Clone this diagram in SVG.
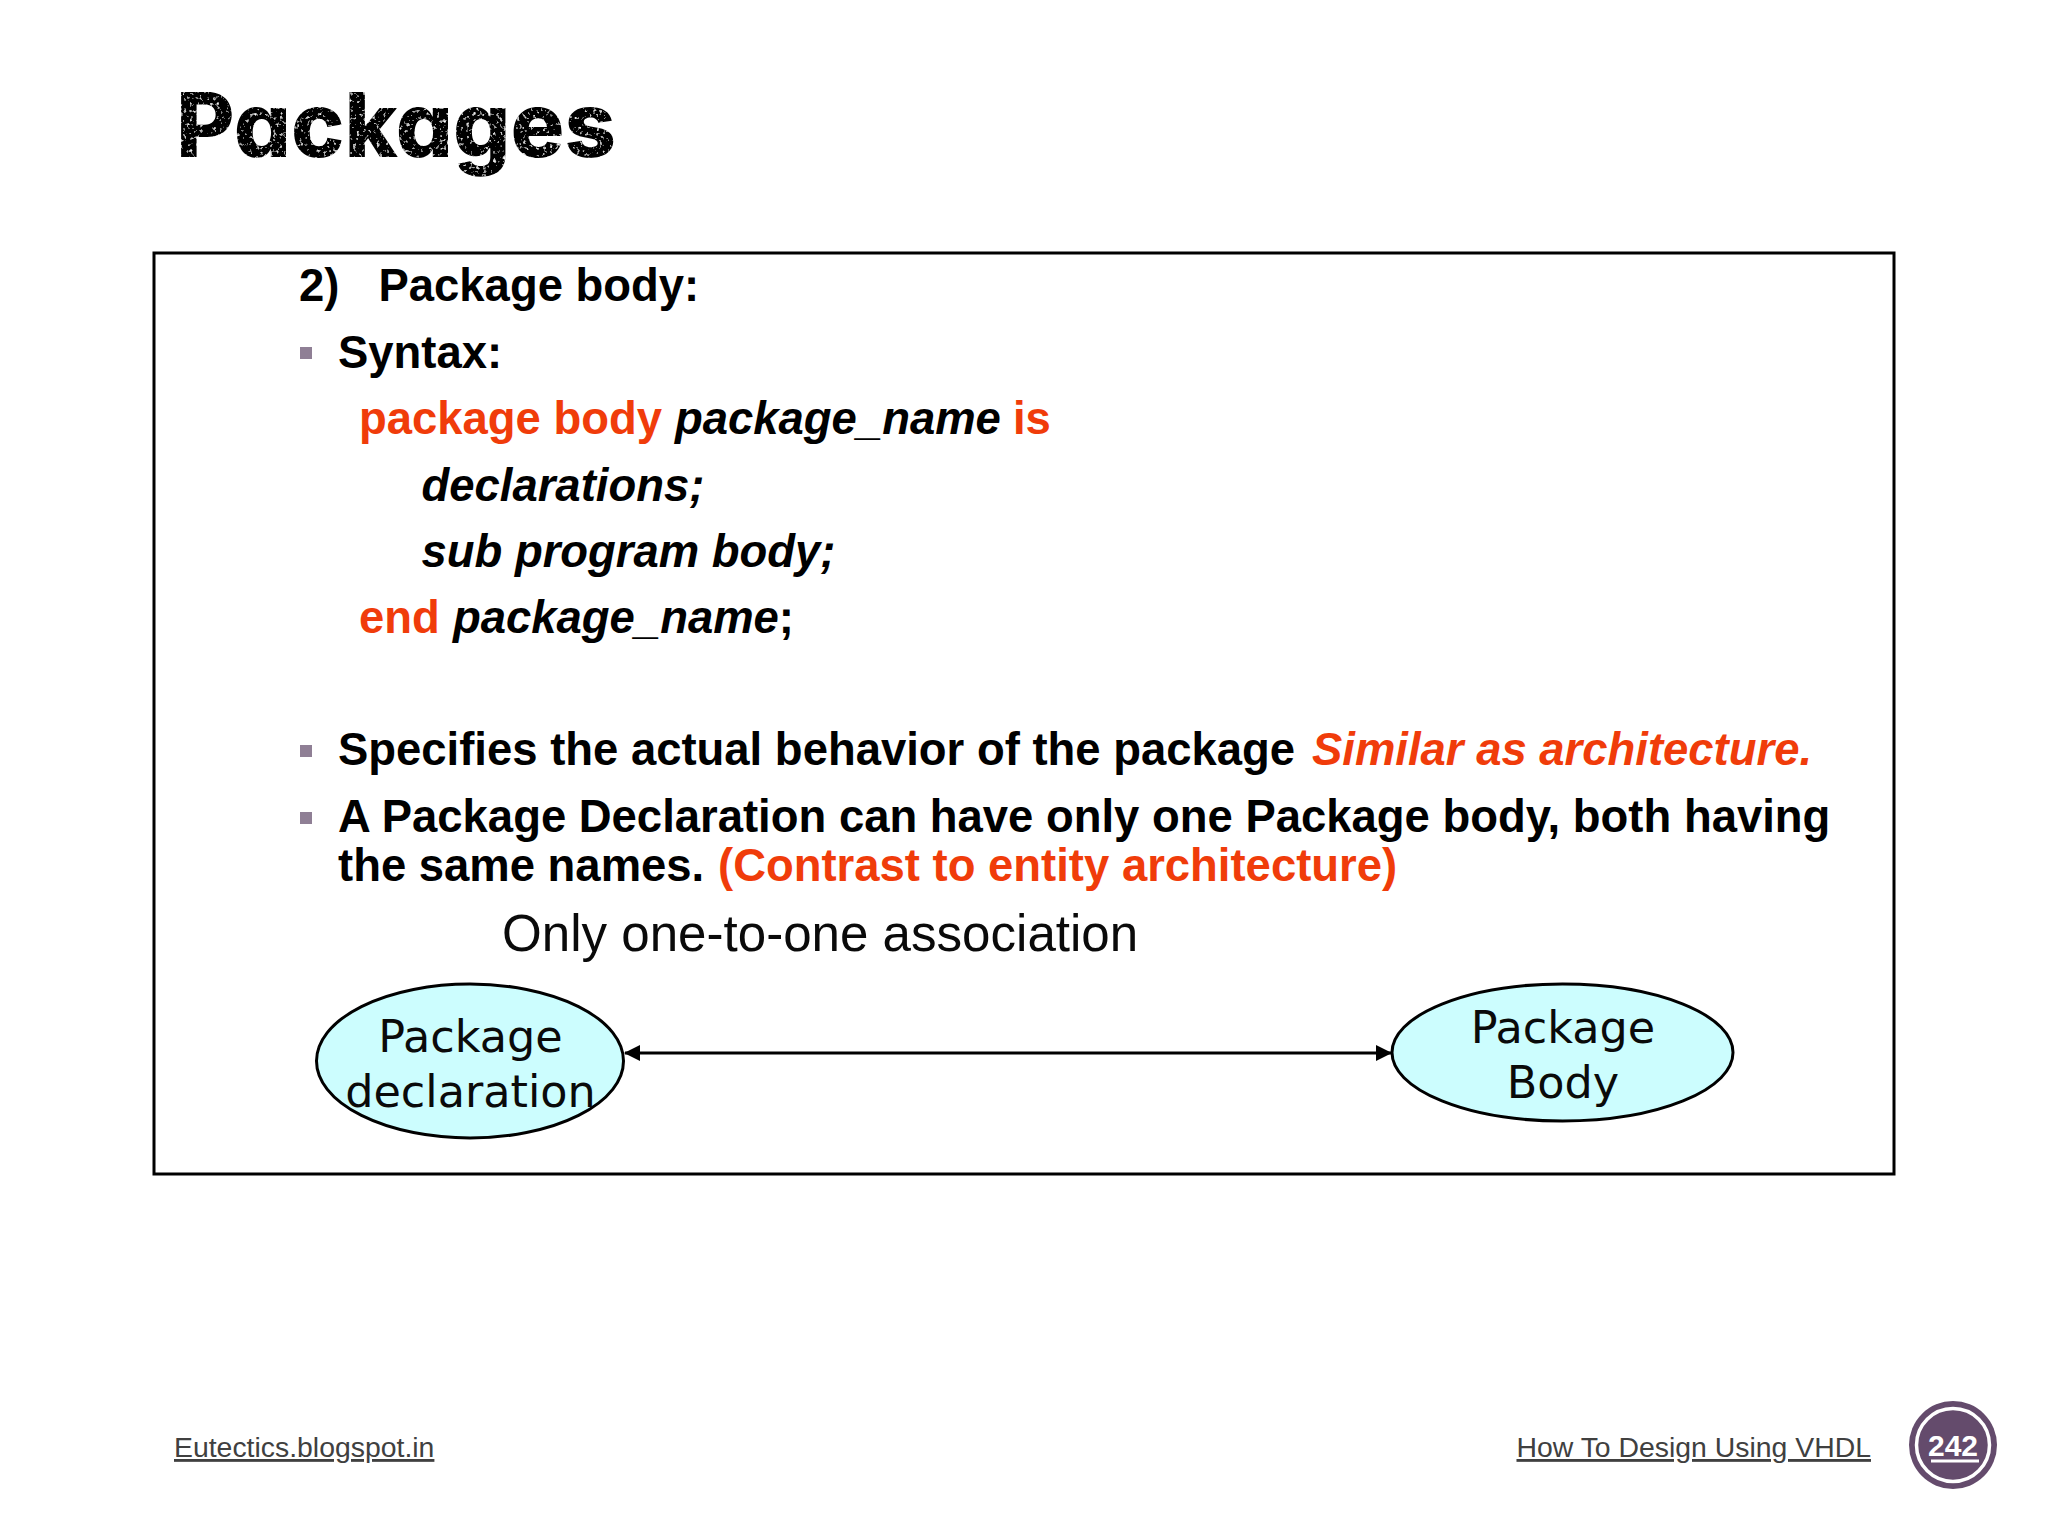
<svg xmlns="http://www.w3.org/2000/svg" width="2048" height="1536" viewBox="0 0 2048 1536">
<style>
.b{font-family:"Liberation Sans",Arial,sans-serif;font-weight:700;font-size:45.45px;fill:#000}
.r{fill:#f03c0a}
.i{font-style:italic}
.n{fill:#ccfdfe;stroke:#000;stroke-width:3}
.t{font-family:"DejaVu Sans",Verdana,sans-serif;font-size:44.5px;fill:#0a0a0a;text-anchor:middle}
.f{font-family:"Liberation Sans",Arial,sans-serif;font-size:28.4px;fill:#404040;text-decoration:underline}
.s{fill:#8f7f95}
</style>
<defs>
<marker id="a" viewBox="0 0 16 16" refX="15" refY="8" markerWidth="16" markerHeight="16" markerUnits="userSpaceOnUse" orient="auto-start-reverse"><path d="M0 0L16 8L0 16z" fill="#000"/></marker>
<filter id="speck" x="-5%" y="-5%" width="110%" height="110%">
<feTurbulence type="fractalNoise" baseFrequency="0.3" numOctaves="2" seed="4" result="n"/>
<feColorMatrix in="n" type="matrix" values="0 0 0 0 1  0 0 0 0 1  0 0 0 0 1  2.4 2.4 0 0 -2.75" result="w"/>
<feComposite in="w" in2="SourceAlpha" operator="in" result="c"/>
<feMerge><feMergeNode in="SourceGraphic"/><feMergeNode in="c"/></feMerge>
</filter>
</defs>
<rect width="2048" height="1536" fill="#fff"/>
<g id="title"><text x="176" y="157" textLength="440" lengthAdjust="spacingAndGlyphs" filter="url(#speck)" style="font-family:Inter,'Noto Sans',sans-serif;font-weight:800;font-size:90px;font-feature-settings:'cv11';fill:#000">Packages</text></g>
<g id="panel">
<rect x="154" y="253" width="1740" height="921" fill="#fff" stroke="#000" stroke-width="3"/>
<text class="b" x="299" y="300.5">2)</text><text class="b" x="378.5" y="300.5">Package body:</text>
<rect class="s" x="300" y="347" width="12" height="12"/>
<text class="b" x="338" y="367.5">Syntax:</text>
<text class="b" y="434"><tspan class="r" x="359">package body</tspan><tspan class="i" x="675">package_name</tspan><tspan class="r" x="1013">is</tspan></text>
<text class="b i" x="421.5" y="500.5">declarations;</text>
<text class="b i" x="421.5" y="567">sub program body;</text>
<text class="b" y="633"><tspan class="r" x="359">end</tspan><tspan class="i" x="453">package_name</tspan>;</text>
<rect class="s" x="300" y="745" width="12" height="12"/>
<text class="b" y="765"><tspan x="338">Specifies the actual behavior of the package</tspan><tspan class="r i" x="1312">Similar as architecture.</tspan></text>
<rect class="s" x="300" y="812" width="12" height="12"/>
<text class="b" x="338" y="832">A Package Declaration can have only one Package body, both having</text>
<text class="b" y="881"><tspan x="338">the same names.</tspan><tspan class="r" x="718">(Contrast to entity architecture)</tspan></text>
<text x="502" y="951" style="font-family:'Liberation Sans',Arial,sans-serif;font-size:51.1px;fill:#0a0a0a">Only one-to-one association</text>
</g>
<g id="connectors"><line x1="625" y1="1053" x2="1391" y2="1053" stroke="#000" stroke-width="3" marker-start="url(#a)" marker-end="url(#a)"/></g>
<g id="node-declaration"><ellipse class="n" cx="470" cy="1061" rx="153.5" ry="77"/><text class="t" x="470.5" y="1052">Package</text><text class="t" x="470.5" y="1107">declaration</text></g>
<g id="node-body"><ellipse class="n" cx="1562.5" cy="1052.5" rx="170.5" ry="68.5"/><text class="t" x="1563" y="1043">Package</text><text class="t" x="1563" y="1098">Body</text></g>
<g id="footer">
<text class="f" x="174" y="1457">Eutectics.blogspot.in</text>
<text class="f" x="1871" y="1457" text-anchor="end">How To Design Using VHDL</text>
</g>
<g id="badge">
<circle cx="1953" cy="1445" r="44" fill="#644b6c"/>
<circle cx="1953" cy="1445" r="36.5" fill="none" stroke="#fff" stroke-width="3.5"/>
<text x="1953" y="1456" text-anchor="middle" style="font-family:'Liberation Sans',Arial,sans-serif;font-weight:700;font-size:30px;fill:#fff">242</text>
<line x1="1931" y1="1461" x2="1979" y2="1461" stroke="#fff" stroke-width="3"/>
</g>
</svg>
